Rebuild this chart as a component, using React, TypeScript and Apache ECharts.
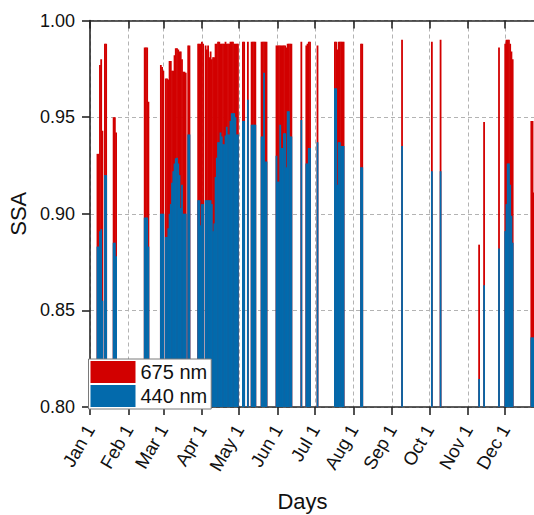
import React, { useEffect, useRef } from "react";
import * as echarts from "echarts";

// Day of year (0 = Jan 1) of the month ticks and their labels
const monthStarts = [0, 31, 59, 90, 120, 151, 181, 212, 243, 273, 304, 334];
const monthLabels = ["Jan 1", "Feb 1", "Mar 1", "Apr 1", "May 1", "Jun 1", "Jul 1", "Aug 1", "Sep 1", "Oct 1", "Nov 1", "Dec 1"];
const yTicks = [0.8, 0.85, 0.9, 0.95, 1.0];

// Winter (Jan - Feb)
const daysWinter = [6, 7, 8, 9, 10, 12, 13, 19, 20, 21, 44, 45, 46, 47];
const ssa675Winter = [0.931, 0.931, 0.977, 0.980, 0.943, 0.988, 0.988, 0.950, 0.950, 0.942, 0.986, 0.986, 0.986, 0.958];
const ssa440Winter = [0.883, 0.883, 0.891, 0.892, 0.855, 0.920, 0.920, 0.885, 0.885, 0.878, 0.898, 0.898, 0.898, 0.883];

// March
const daysMar = [57, 58, 59, 61, 62, 63, 64, 65, 66, 67, 68, 69, 70, 71, 72, 73, 74, 75, 76, 77, 79, 80];
const ssa675Mar = [0.977, 0.976, 0.974, 0.970, 0.970, 0.9695, 0.979, 0.979, 0.974, 0.974, 0.982, 0.9856, 0.9856, 0.985, 0.984, 0.984, 0.980, 0.9735, 0.9735, 0.973, 0.987, 0.987];
const ssa440Mar = [0.900, 0.900, 0.900, 0.888, 0.888, 0.8925, 0.900, 0.905, 0.916, 0.922, 0.926, 0.9287, 0.929, 0.926, 0.920, 0.903, 0.915, 0.900, 0.900, 0.900, 0.941, 0.941];

// Late March - April
const daysApr = [87, 88, 89, 90, 91, 93, 94, 95, 96, 97, 98, 99, 100, 101, 102, 103, 104, 105, 106, 107, 108, 109, 110, 111, 112, 113, 114, 115, 116, 117, 118, 119];
const ssa675Apr = [0.988, 0.988, 0.988, 0.989, 0.988, 0.987, 0.985, 0.987, 0.981, 0.984, 0.980, 0.981, 0.981, 0.988, 0.988, 0.989, 0.989, 0.988, 0.988, 0.988, 0.988, 0.989, 0.988, 0.988, 0.988, 0.989, 0.989, 0.989, 0.988, 0.988, 0.988, 0.988];
const ssa440Apr = [0.907, 0.907, 0.894, 0.905, 0.905, 0.907, 0.907, 0.907, 0.907, 0.907, 0.905, 0.891, 0.895, 0.919, 0.929, 0.937, 0.937, 0.942, 0.940, 0.936, 0.936, 0.9405, 0.945, 0.941, 0.941, 0.948, 0.952, 0.952, 0.952, 0.950, 0.941, 0.941];

// May - June
const daysMayJun = [123, 124, 127, 130, 131, 132, 133, 138, 139, 140, 141, 142, 150, 151, 152, 153, 154, 155, 156, 157, 158, 159, 160, 161, 162, 170, 174, 175, 176, 177, 183];
const ssa675MayJun = [0.989, 0.989, 0.989, 0.989, 0.989, 0.989, 0.989, 0.989, 0.989, 0.989, 0.989, 0.989, 0.987, 0.987, 0.987, 0.987, 0.987, 0.987, 0.987, 0.987, 0.986, 0.988, 0.988, 0.988, 0.988, 0.989, 0.987, 0.988, 0.989, 0.989, 0.987];
const ssa440MayJun = [0.948, 0.948, 0.959, 0.946, 0.946, 0.946, 0.946, 0.940, 0.940, 0.973, 0.927, 0.927, 0.930, 0.9166, 0.9166, 0.946, 0.934, 0.934, 0.9416, 0.9416, 0.924, 0.953, 0.953, 0.940, 0.940, 0.9485, 0.926, 0.926, 0.934, 0.934, 0.937];

// July - December
const daysLate = [197, 198, 199, 200, 201, 202, 203, 204, 218, 219, 251, 275, 282, 313, 317, 329, 334, 335, 336, 337, 338, 339, 340, 355, 356, 357];
const ssa675Late = [0.989, 0.989, 0.985, 0.989, 0.989, 0.989, 0.989, 0.989, 0.988, 0.988, 0.990, 0.989, 0.990, 0.884, 0.9475, 0.986, 0.988, 0.990, 0.990, 0.990, 0.988, 0.984, 0.980, 0.948, 0.948, 0.911];
const ssa440Late = [0.965, 0.965, 0.915, 0.937, 0.937, 0.935, 0.935, 0.935, 0.924, 0.924, 0.935, 0.922, 0.922, 0.8145, 0.863, 0.882, 0.891, 0.905, 0.926, 0.926, 0.915, 0.899, 0.885, 0.836, 0.836, 0.836];

const days = [...daysWinter, ...daysMar, ...daysApr, ...daysMayJun, ...daysLate];
const ssa675 = [...ssa675Winter, ...ssa675Mar, ...ssa675Apr, ...ssa675MayJun, ...ssa675Late];
const ssa440 = [...ssa440Winter, ...ssa440Mar, ...ssa440Apr, ...ssa440MayJun, ...ssa440Late];

const RED = "#D20000";
const BLUE = "#036AAC";
const AXIS = "#262626";
const FONT = "'Liberation Sans', Arial, Helvetica, sans-serif";

export default function App() {
  const ref = useRef<HTMLDivElement>(null);

  useEffect(() => {
    if (!ref.current) return;
    const chart = echarts.init(ref.current, undefined, { renderer: "svg" });
    const gridLine = { show: true, lineStyle: { type: [4, 3] as any, color: "#b3b3b3", width: 1 } };
    const axisLine = { show: true, onZero: false, lineStyle: { color: AXIS, width: 1.6 } };
    chart.setOption({
      animation: false,
      backgroundColor: "#ffffff",
      textStyle: { fontFamily: FONT },
      grid: { left: 90, top: 20.5, width: 455, height: 386.5, containLabel: false, outerBoundsMode: "none" },
      legend: {
        orient: "vertical",
        left: 88.5,
        top: 359,
        icon: "rect",
        itemWidth: 45,
        itemHeight: 22,
        itemGap: 2,
        padding: [2, 4, 2, 2],
        backgroundColor: "#ffffff",
        borderColor: "#7a7a7a",
        borderWidth: 1,
        textStyle: { fontSize: 20, color: "#111", fontFamily: FONT },
        data: ["675 nm", "440 nm"],
      },
      xAxis: [
        {
          type: "value",
          position: "bottom",
          min: 0,
          max: 366,
          axisLine,
          axisTick: { show: true, length: 8, customValues: monthStarts, lineStyle: { color: AXIS, width: 1.6 } },
          axisLabel: {
            customValues: monthStarts,
            formatter: (v: number) => monthLabels[monthStarts.indexOf(v)] ?? "",
            rotate: 60,
            fontSize: 18.5,
            color: "#111",
            margin: 19,
            fontFamily: FONT,
          },
          splitLine: gridLine,
          name: "Days",
          nameLocation: "middle",
          nameGap: 83,
          nameTextStyle: { fontSize: 22, color: "#111", fontFamily: FONT, padding: [0, 30, 0, 0] },
        },
        {
          type: "value",
          position: "top",
          min: 0,
          max: 366,
          axisLine,
          axisTick: { show: true, inside: true, length: 8, customValues: monthStarts, lineStyle: { color: AXIS, width: 1.6 } },
          axisLabel: { show: false },
          splitLine: { show: false },
        },
      ],
      yAxis: {
        type: "value",
        min: 0.8,
        max: 1.0,
        interval: 0.05,
        axisLine,
        axisTick: { show: true, length: 8, lineStyle: { color: AXIS, width: 1.6 } },
        axisLabel: {
          formatter: (v: number) => (yTicks.some((t) => Math.abs(t - v) < 1e-6) ? v.toFixed(2) : ""),
          fontSize: 18,
          color: "#111",
          margin: 15,
          fontFamily: FONT,
        },
        splitLine: gridLine,
        name: "SSA",
        nameLocation: "middle",
        nameGap: 58,
        nameTextStyle: { fontSize: 22, color: "#111", fontFamily: FONT },
      },
      series: [
        {
          name: "675 nm",
          type: "bar",
          xAxisIndex: 0,
          barWidth: 1.8,
          barGap: "-100%",
          itemStyle: { color: RED },
          data: days.map((d, i) => [d, ssa675[i]]),
        },
        {
          name: "440 nm",
          type: "bar",
          xAxisIndex: 0,
          barWidth: 1.8,
          barGap: "-100%",
          itemStyle: { color: BLUE },
          data: days.map((d, i) => [d, ssa440[i]]),
        },
      ],
    });
    return () => chart.dispose();
  }, []);

  return <div ref={ref} style={{ position: "absolute", left: 0, top: 0, width: 534, height: 515 }} />;
}
